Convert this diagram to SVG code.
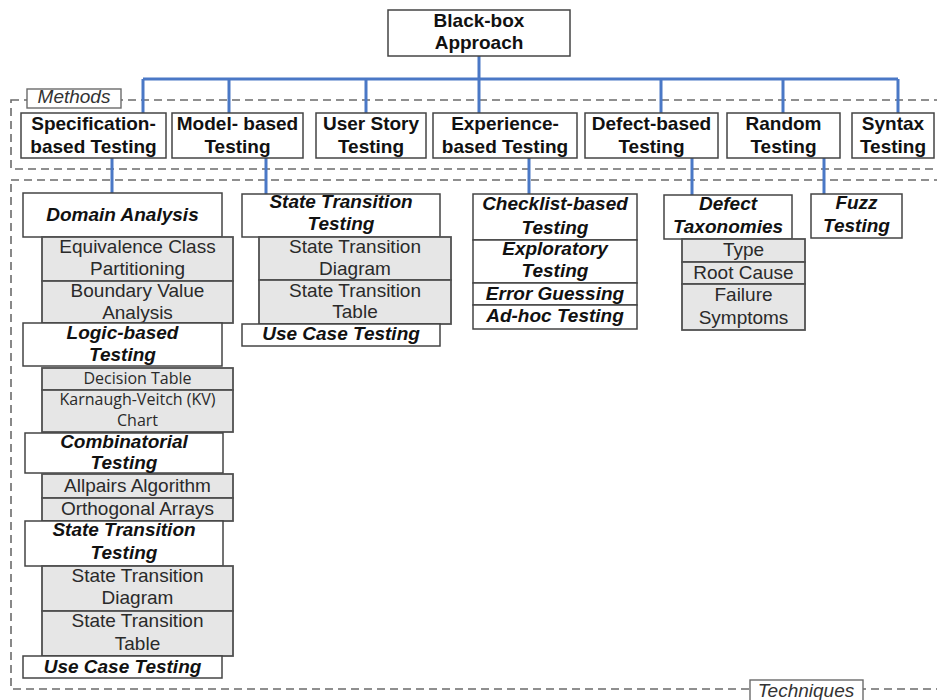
<svg xmlns="http://www.w3.org/2000/svg" width="937" height="700" viewBox="0 0 937 700">
  <style>
    text { font-family: "Liberation Sans", Arial, sans-serif; text-anchor: middle; }
    .box { fill: #ffffff; stroke: #444444; stroke-width: 1.5; }
    .sub { fill: #e6e6e6; stroke: #505050; stroke-width: 1.8; }
    .frame { fill: none; stroke: #6b6b6b; stroke-width: 1.6; stroke-dasharray: 8 5; }
    .tag { fill: #ffffff; stroke: #6b6b6b; stroke-width: 1.4; }
    .b { font-size: 19px; font-weight: bold; fill: #111111; }
    .bi { font-size: 19px; font-weight: bold; font-style: italic; fill: #111111; }
    .r { font-size: 19px; fill: #2a2a2a; }
    .c { font-family: "Open Sans", "Noto Sans", sans-serif; font-size: 16px; fill: #2a2a2a; }
    .i { font-size: 19px; font-style: italic; fill: #333333; }
    .wire { fill: none; stroke: #4a78c6; stroke-width: 3; }
  </style>

  <!-- group frames -->
  <g id="methods-frame">
    <rect class="frame" x="11" y="100" width="940" height="69"/>
    <rect class="tag" x="27" y="89" width="94" height="19"/>
    <text class="i" x="74" y="103">Methods</text>
  </g>
  <g id="techniques-frame">
    <rect class="frame" x="11" y="180" width="940" height="509"/>
    <rect class="tag" x="750" y="680" width="113" height="26"/>
    <text class="i" x="806" y="697">Techniques</text>
  </g>

  <!-- connectors -->
  <g id="connectors">
    <path class="wire" d="M479 56 V79 M143 79 H898 M143 79 V113 M229 79 V113 M366 79 V113 M479 79 V113 M661 79 V113 M783 79 V113 M898 79 V113"/>
    <path class="wire" d="M112 158 V193 M266 158 V194 M529 158 V194 M692 158 V195 M824 158 V194"/>
  </g>

  <!-- root -->
  <g id="black-box">
    <rect class="box" x="388" y="10" width="182" height="46"/>
    <text class="b" x="479" y="27">Black-box</text>
    <text class="b" x="479" y="49">Approach</text>
  </g>

  <!-- methods -->
  <g id="specification-based">
    <rect class="box" x="21" y="113" width="145" height="45"/>
    <text class="b" x="93.5" y="130">Specification-</text>
    <text class="b" x="93.5" y="153">based Testing</text>
  </g>
  <g id="model-based">
    <rect class="box" x="172" y="113" width="131" height="45"/>
    <text class="b" x="237.5" y="130">Model- based</text>
    <text class="b" x="237.5" y="153">Testing</text>
  </g>
  <g id="user-story">
    <rect class="box" x="316" y="113" width="110" height="45"/>
    <text class="b" x="371" y="130">User Story</text>
    <text class="b" x="371" y="153">Testing</text>
  </g>
  <g id="experience-based">
    <rect class="box" x="433" y="113" width="144" height="45"/>
    <text class="b" x="505" y="130">Experience-</text>
    <text class="b" x="505" y="153">based Testing</text>
  </g>
  <g id="defect-based">
    <rect class="box" x="585" y="113" width="133" height="45"/>
    <text class="b" x="651.5" y="130">Defect-based</text>
    <text class="b" x="651.5" y="153">Testing</text>
  </g>
  <g id="random">
    <rect class="box" x="727" y="113" width="113" height="45"/>
    <text class="b" x="783.5" y="130">Random</text>
    <text class="b" x="783.5" y="153">Testing</text>
  </g>
  <g id="syntax">
    <rect class="box" x="852" y="113" width="82" height="45"/>
    <text class="b" x="893" y="130">Syntax</text>
    <text class="b" x="893" y="153">Testing</text>
  </g>

  <!-- specification-based techniques -->
  <g id="domain-analysis">
    <rect class="box" x="23" y="193" width="199" height="44"/>
    <text class="bi" x="122.5" y="221">Domain Analysis</text>
  </g>
  <g id="equivalence-class">
    <rect class="sub" x="42" y="237" width="191" height="44"/>
    <text class="r" x="137.5" y="253">Equivalence Class</text>
    <text class="r" x="137.5" y="275">Partitioning</text>
  </g>
  <g id="boundary-value">
    <rect class="sub" x="42" y="281" width="191" height="42"/>
    <text class="r" x="137.5" y="297">Boundary Value</text>
    <text class="r" x="137.5" y="319">Analysis</text>
  </g>
  <g id="logic-based">
    <rect class="box" x="23" y="323" width="199" height="43"/>
    <text class="bi" x="122.5" y="339">Logic-based</text>
    <text class="bi" x="122.5" y="361">Testing</text>
  </g>
  <g id="decision-table">
    <rect class="sub" x="42" y="368" width="191" height="22"/>
    <text class="c" x="137.5" y="384">Decision Table</text>
  </g>
  <g id="kv-chart">
    <rect class="sub" x="42" y="390" width="191" height="42"/>
    <text class="c" x="137.5" y="405">Karnaugh-Veitch (KV)</text>
    <text class="c" x="137.5" y="426">Chart</text>
  </g>
  <g id="combinatorial">
    <rect class="box" x="25" y="433" width="198" height="40"/>
    <text class="bi" x="124" y="448">Combinatorial</text>
    <text class="bi" x="124" y="469">Testing</text>
  </g>
  <g id="allpairs">
    <rect class="sub" x="42" y="474" width="191" height="24"/>
    <text class="r" x="137.5" y="492">Allpairs Algorithm</text>
  </g>
  <g id="orthogonal-arrays">
    <rect class="sub" x="42" y="498" width="191" height="23"/>
    <text class="r" x="137.5" y="515">Orthogonal Arrays</text>
  </g>
  <g id="state-transition-1">
    <rect class="box" x="25" y="521" width="198" height="45"/>
    <text class="bi" x="124" y="536">State Transition</text>
    <text class="bi" x="124" y="559">Testing</text>
  </g>
  <g id="st-diagram-1">
    <rect class="sub" x="42" y="566" width="191" height="45"/>
    <text class="r" x="137.5" y="582">State Transition</text>
    <text class="r" x="137.5" y="604">Diagram</text>
  </g>
  <g id="st-table-1">
    <rect class="sub" x="42" y="611" width="191" height="45"/>
    <text class="r" x="137.5" y="627">State Transition</text>
    <text class="r" x="137.5" y="650">Table</text>
  </g>
  <g id="use-case-1">
    <rect class="box" x="23" y="656" width="199" height="22"/>
    <text class="bi" x="122.5" y="673">Use Case Testing</text>
  </g>

  <!-- model-based techniques -->
  <g id="state-transition-2">
    <rect class="box" x="242" y="194" width="198" height="43"/>
    <text class="bi" x="341" y="208">State Transition</text>
    <text class="bi" x="341" y="230">Testing</text>
  </g>
  <g id="st-diagram-2">
    <rect class="sub" x="259" y="237" width="192" height="43"/>
    <text class="r" x="355" y="253">State Transition</text>
    <text class="r" x="355" y="275">Diagram</text>
  </g>
  <g id="st-table-2">
    <rect class="sub" x="259" y="280" width="192" height="44"/>
    <text class="r" x="355" y="297">State Transition</text>
    <text class="r" x="355" y="318">Table</text>
  </g>
  <g id="use-case-2">
    <rect class="box" x="242" y="324" width="198" height="22"/>
    <text class="bi" x="341" y="340">Use Case Testing</text>
  </g>

  <!-- experience-based techniques -->
  <g id="checklist-based">
    <rect class="box" x="473" y="194" width="164" height="46"/>
    <text class="bi" x="555" y="210">Checklist-based</text>
    <text class="bi" x="555" y="234">Testing</text>
  </g>
  <g id="exploratory">
    <rect class="box" x="473" y="240" width="164" height="43"/>
    <text class="bi" x="555" y="255">Exploratory</text>
    <text class="bi" x="555" y="277">Testing</text>
  </g>
  <g id="error-guessing">
    <rect class="box" x="473" y="283" width="164" height="22"/>
    <text class="bi" x="555" y="300">Error Guessing</text>
  </g>
  <g id="ad-hoc">
    <rect class="box" x="473" y="305" width="164" height="24"/>
    <text class="bi" x="555" y="322">Ad-hoc Testing</text>
  </g>

  <!-- defect-based techniques -->
  <g id="defect-taxonomies">
    <rect class="box" x="664" y="195" width="128" height="44"/>
    <text class="bi" x="728" y="210">Defect</text>
    <text class="bi" x="728" y="233">Taxonomies</text>
  </g>
  <g id="type">
    <rect class="sub" x="682" y="239" width="123" height="23"/>
    <text class="r" x="743.5" y="256">Type</text>
  </g>
  <g id="root-cause">
    <rect class="sub" x="682" y="262" width="123" height="22"/>
    <text class="r" x="743.5" y="279">Root Cause</text>
  </g>
  <g id="failure-symptoms">
    <rect class="sub" x="682" y="284" width="123" height="46"/>
    <text class="r" x="743.5" y="301">Failure</text>
    <text class="r" x="743.5" y="324">Symptoms</text>
  </g>

  <!-- random testing techniques -->
  <g id="fuzz">
    <rect class="box" x="811" y="194" width="91" height="44"/>
    <text class="bi" x="856.5" y="209">Fuzz</text>
    <text class="bi" x="856.5" y="232">Testing</text>
  </g>
</svg>
